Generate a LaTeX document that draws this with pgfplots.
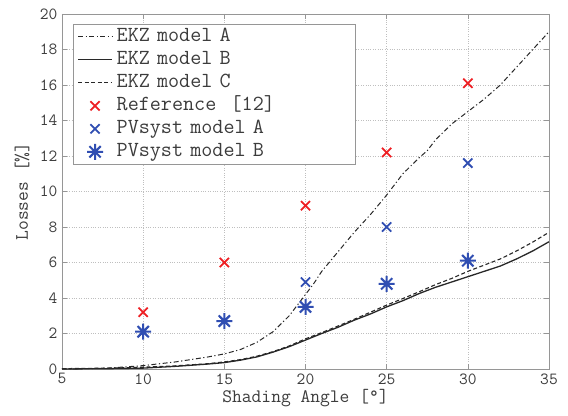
\documentclass[border=0pt]{standalone}
\usepackage{fontspec}
\usepackage{pgfplots}
\pgfplotsset{compat=1.18}
\definecolor{refred}{RGB}{238,32,36}
\definecolor{pvblue}{RGB}{48,78,178}
\definecolor{axgray}{RGB}{150,150,150}
\definecolor{txtgray}{RGB}{60,60,60}
\definecolor{crv}{RGB}{40,40,40}
\pgfdeclareplotmark{star8}{%
  \pgfpathmoveto{\pgfqpoint{-\pgfplotmarksize}{0pt}}\pgfpathlineto{\pgfqpoint{\pgfplotmarksize}{0pt}}%
  \pgfpathmoveto{\pgfqpoint{0pt}{-\pgfplotmarksize}}\pgfpathlineto{\pgfqpoint{0pt}{\pgfplotmarksize}}%
  \pgfpathmoveto{\pgfqpoint{-.707\pgfplotmarksize}{-.707\pgfplotmarksize}}\pgfpathlineto{\pgfqpoint{.707\pgfplotmarksize}{.707\pgfplotmarksize}}%
  \pgfpathmoveto{\pgfqpoint{-.707\pgfplotmarksize}{.707\pgfplotmarksize}}\pgfpathlineto{\pgfqpoint{.707\pgfplotmarksize}{-.707\pgfplotmarksize}}%
  \pgfusepathqstroke}
\begin{document}
\begin{tikzpicture}
\useasboundingbox (-62bp,-47bp) rectangle (506bp,369bp);
\begin{axis}[
  at={(0,0)}, anchor=south west,
  scale only axis, width=487bp, height=355bp,
  xmin=5, xmax=35, ymin=0, ymax=20,
  xtick={5,10,15,20,25,30,35}, ytick={0,2,4,6,8,10,12,14,16,18,20},
  xticklabels={5,10,15,20,25,30,35},
  yticklabels={0,2,4,6,8,10,12,14,16,18,20},
  tick label style={font=\ttfamily\fontsize{17bp}{19bp}\selectfont, text=txtgray},
  xticklabel style={yshift=-1bp},
  yticklabel style={xshift=-1bp},
  label style={font=\ttfamily\fontsize{19bp}{21bp}\selectfont, text=txtgray},
  xlabel={Shading Angle [°]},
  ylabel={Losses [\%]},
  xlabel style={at={(axis description cs:0.5,-0.082)}, anchor=center},
  ylabel style={at={(axis description cs:-0.082,0.5)}, anchor=center},
  axis line style={axgray, line width=0.8bp},
  tick align=inside, major tick length=5bp,
  tick style={axgray, line width=0.6bp},
  grid=major,
  major grid style={dotted, line width=0.6bp, color=black!25},
  legend style={at={(axis description cs:0.0226,0.972)}, anchor=north west,
    draw=axgray, line width=0.8bp, fill=white,
    font=\ttfamily\fontsize{21.5bp}{23bp}\selectfont, text=txtgray,
    inner xsep=4bp, inner ysep=1bp, row sep=0bp,
    nodes={text width=231bp, align=left, inner xsep=4bp, inner ysep=2.5bp, text height=13.5bp, text depth=4.5bp}},
  legend cell align=left,
  legend image code/.code={\draw[mark repeat=2,mark phase=2,#1] plot coordinates {(0bp,0bp)(17bp,0bp)(34bp,0bp)};},
]
\addplot[crv, line width=1bp, dash pattern=on 5bp off 2.5bp on 1.2bp off 2.5bp] coordinates {
(5,0)(7,0.03)(8,0.06)(10,0.19)(12,0.4)(14,0.68)(15,0.85)(16,1.1)(17,1.5)(18,2.1)(19,3.0)(19.5,3.6)(20,4.2)(20.5,4.8)(21,5.5)(22,6.6)(23,7.7)(24,8.7)(25,9.8)(26,11.0)(27,11.9)(27.5,12.3)(28,12.9)(29,13.8)(30,14.5)(31,15.2)(32,16.0)(33,17.0)(34,18.0)(35,19.0)};
\addlegendentry{EKZ model A}
\addplot[crv, line width=1.3bp] coordinates {
(5,0)(8,0.02)(10,0.05)(12,0.15)(14,0.28)(15,0.36)(16,0.5)(17,0.68)(18,0.95)(19,1.26)(20,1.63)(21,2.0)(22,2.35)(23,2.75)(24,3.1)(25,3.5)(26,3.85)(27,4.25)(28,4.6)(29,4.9)(30,5.2)(31,5.5)(32,5.8)(33,6.2)(34,6.65)(35,7.17)};
\addlegendentry{EKZ model B}
\addplot[crv, line width=1.1bp, dash pattern=on 4bp off 2.5bp] coordinates {
(5,0.02)(8,0.05)(10,0.1)(12,0.18)(14,0.3)(15,0.4)(16,0.53)(17,0.72)(18,0.98)(19,1.3)(20,1.7)(21,2.05)(22,2.42)(23,2.8)(24,3.2)(25,3.6)(26,3.97)(27,4.35)(28,4.75)(29,5.1)(30,5.5)(31,5.85)(32,6.2)(33,6.65)(34,7.15)(35,7.7)};
\addlegendentry{EKZ model C}
\addplot[only marks, mark=x, mark size=6.5bp, refred, line width=1.8bp] coordinates {
(10,3.2)(15,6.0)(20,9.2)(25,12.2)(30,16.1)};
\addlegendentry{Reference\ \ [12]}
\addplot[only marks, mark=x, mark size=6.5bp, pvblue, line width=1.8bp] coordinates {
(10,2.1)(15,2.7)(20,4.9)(25,8.0)(30,11.6)};
\addlegendentry{PVsyst model A}
\addplot[only marks, mark=star8, mark size=8bp, pvblue, line width=2bp] coordinates {
(10,2.1)(15,2.7)(20,3.5)(25,4.8)(30,6.1)};
\addlegendentry{PVsyst model B}
\end{axis}
\end{tikzpicture}
\end{document}
